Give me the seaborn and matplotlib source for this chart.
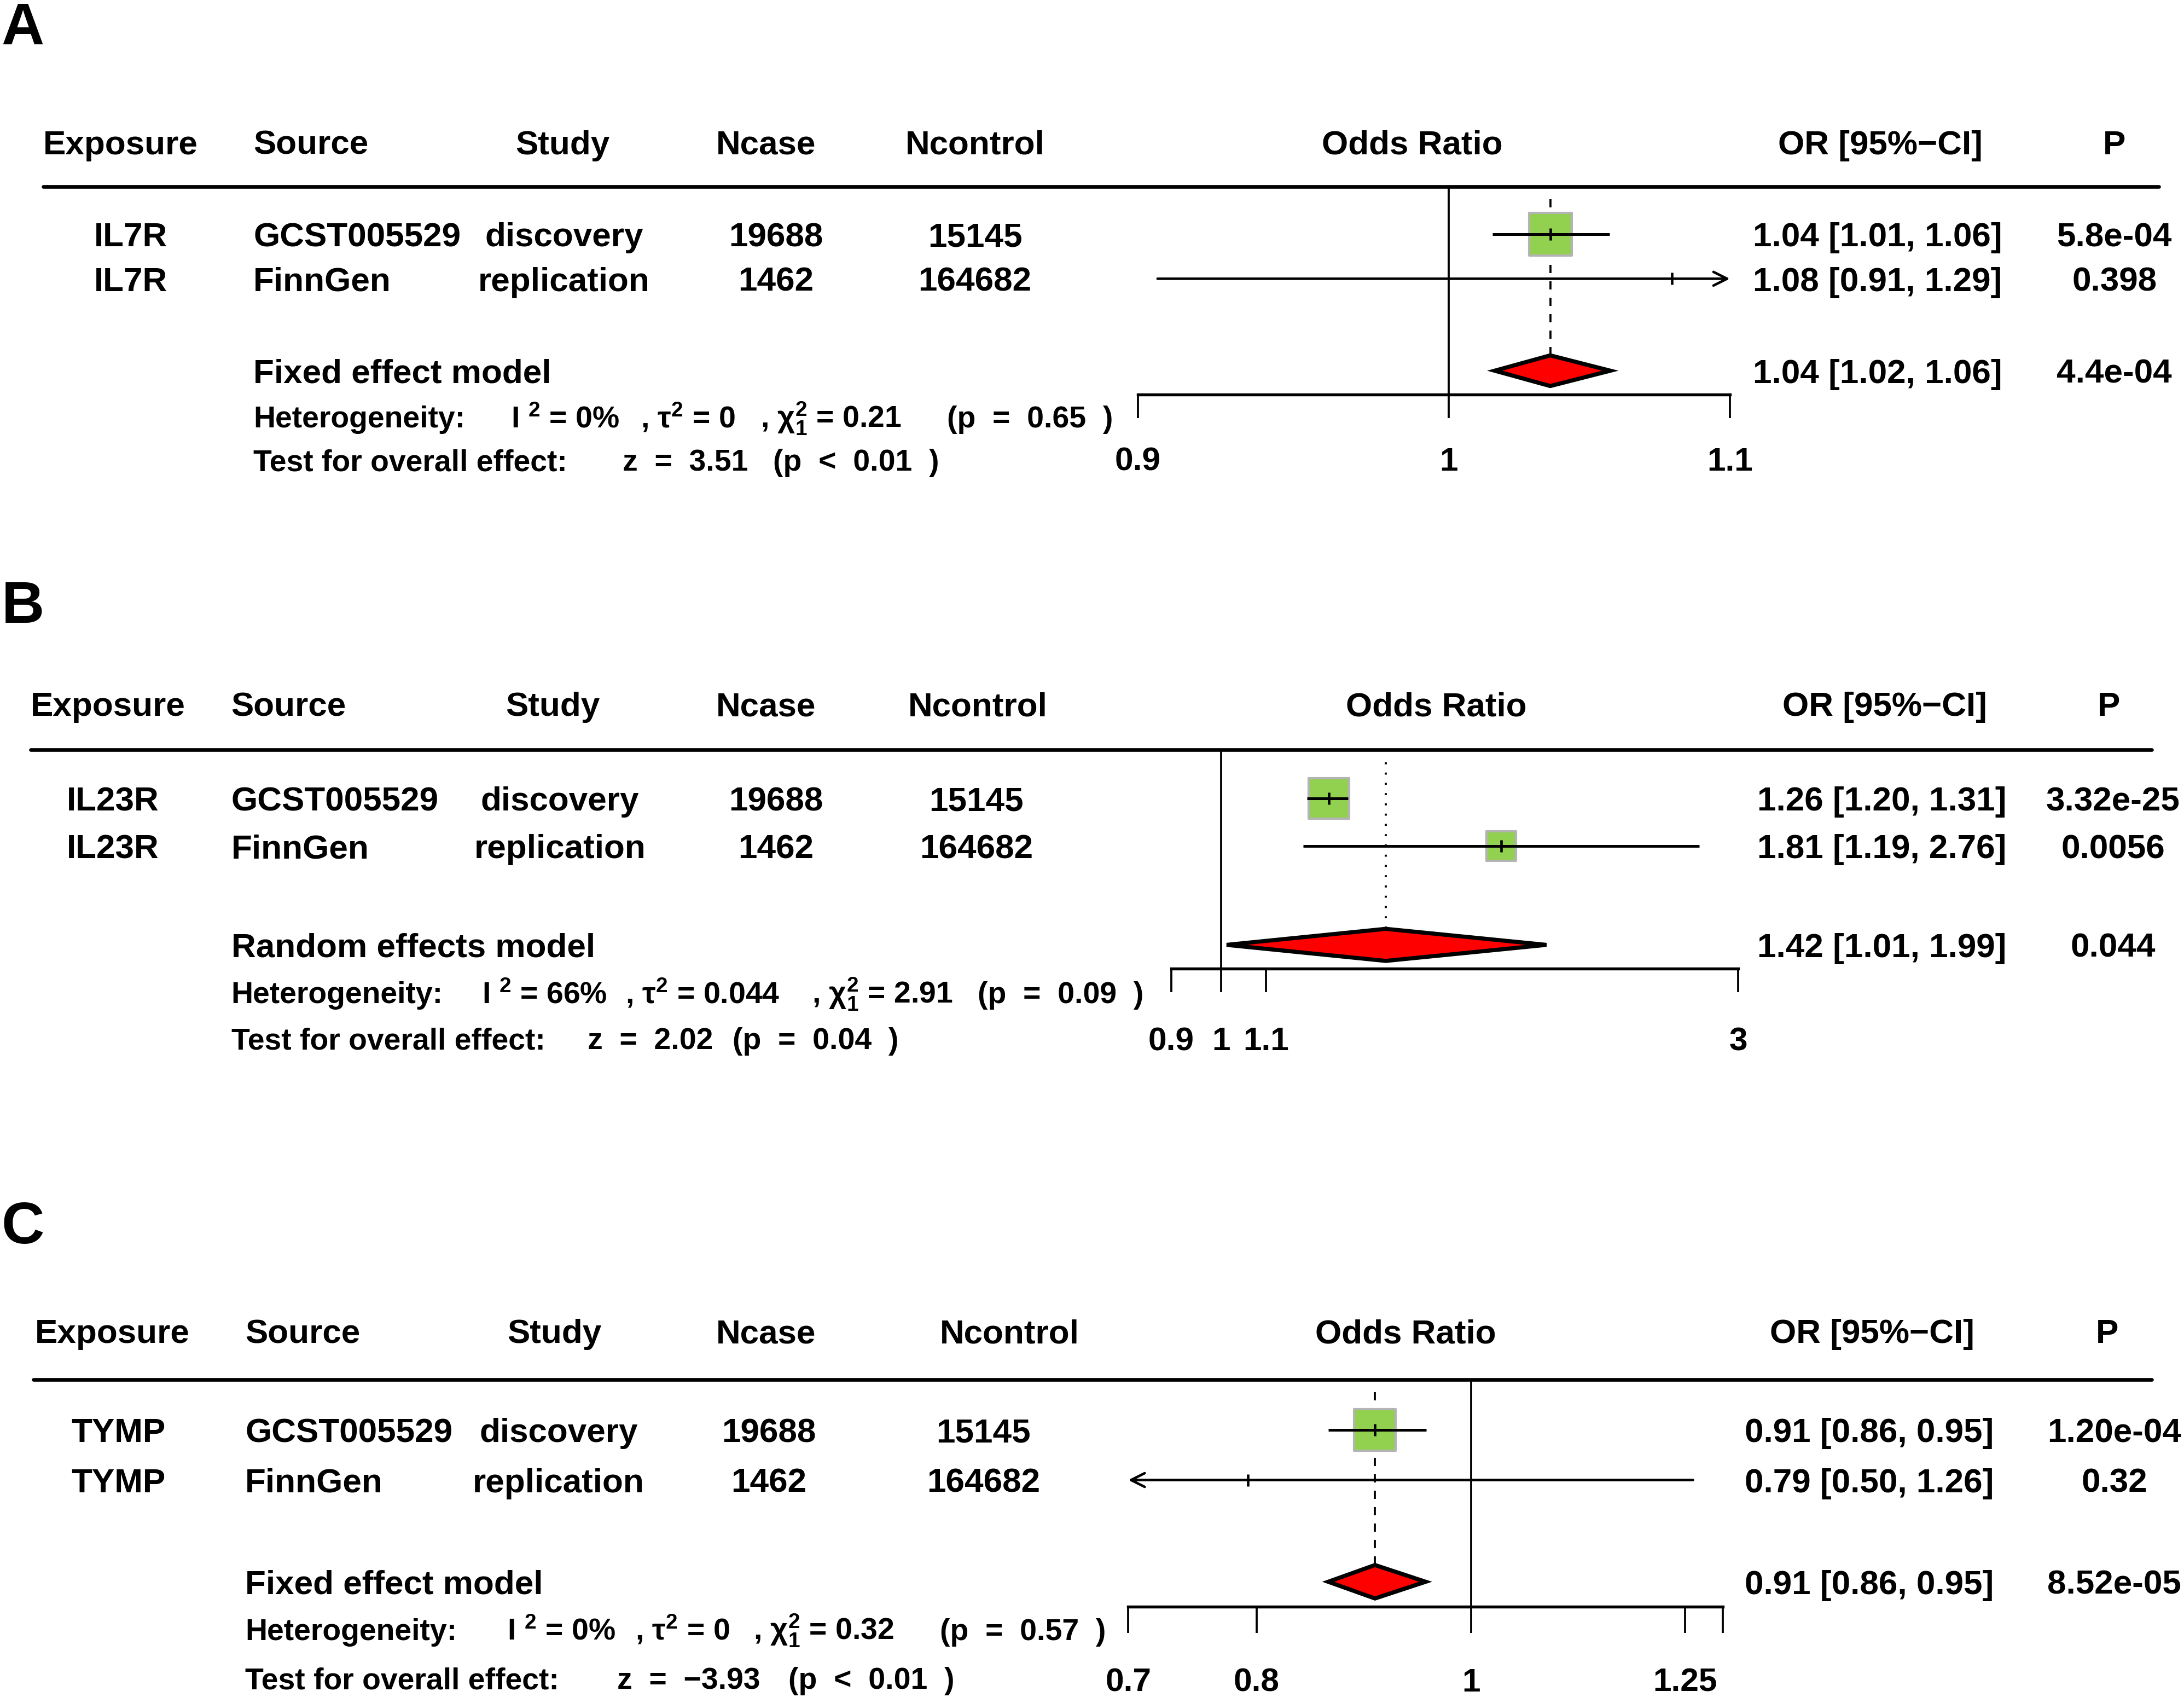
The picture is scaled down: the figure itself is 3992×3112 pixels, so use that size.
import matplotlib
matplotlib.use('Agg')
import matplotlib.pyplot as plt
import seaborn as sns
from matplotlib.lines import Line2D
from matplotlib.ticker import NullLocator

# Stil: hvid baggrund, alt sort og fedt
sns.set_theme(style='white', rc={'text.color': 'black', 'axes.edgecolor': 'black',
                                 'xtick.color': 'black', 'axes.labelcolor': 'black'})
plt.rcParams['font.family'] = ['Liberation Sans', 'DejaVu Sans']
plt.rcParams['font.weight'] = 'bold'
plt.rcParams['mathtext.default'] = 'regular'

# ---- data ----
panel_letters = ['A', 'B', 'C']
exposures = ['IL7R', 'IL23R', 'TYMP']
sources = ['GCST005529', 'FinnGen']
studies = ['discovery', 'replication']
ncase = [19688, 1462]
ncontrol = [15145, 164682]

or_est = [[1.035, 1.0785], [1.257, 1.813], [0.905, 0.793]]
ci_lo = [[1.015, 0.906], [1.20, 1.19], [0.862, 0.50]]
ci_hi = [[1.056, 1.29], [1.31, 2.76], [0.9545, 1.26]]
or_text = [['1.04 [1.01, 1.06]', '1.08 [0.91, 1.29]'],
           ['1.26 [1.20, 1.31]', '1.81 [1.19, 2.76]'],
           ['0.91 [0.86, 0.95]', '0.79 [0.50, 1.26]']]
p_text = [['5.8e-04', '0.398'], ['3.32e-25', '0.0056'], ['1.20e-04', '0.32']]

models = ['Fixed effect model', 'Random effects model', 'Fixed effect model']
pooled_est = [1.035, 1.419, 0.905]
pooled_lo = [1.0157, 1.012, 0.862]
pooled_hi = [1.0563, 1.996, 0.954]
pooled_text = ['1.04 [1.02, 1.06]', '1.42 [1.01, 1.99]', '0.91 [0.86, 0.95]']
pooled_p = ['4.4e-04', '0.044', '8.52e-05']

i2 = ['0%', '66%', '0%']
tau2 = ['0', '0.044', '0']
q_stat = ['0.21', '2.91', '0.32']
p_het = ['0.65', '0.09', '0.57']
z_stat = ['3.51', '2.02', '\u22123.93']
p_z = ['<  0.01', '=  0.04', '<  0.01']

ticks = [[0.9, 1, 1.1], [0.9, 1, 1.1, 3], [0.7, 0.8, 1, 1.25, 1.3]]
tick_labels = [['0.9', '1', '1.1'], ['0.9', '1', '1.1', '3'], ['0.7', '0.8', '1', '1.25', '']]

# ---- layout (pixel grid of the reference, 1568 x 1222) ----
W, H = 1568, 1222
layout = [
    dict(letter=32, head=102, rule=134, rule_x=(31, 1550), rows=(168, 200), summ=266,
         het=299, test=330, axis=283, tl=17, tlab=330, px=(817, 1242), dh=11, line='dash',
         exp_h=31, exp=94, src=182, study_h=404, study=405, ncase_h=550, ncase=557,
         nctl_h=700, nctl=700, orh=1014, ci_h=1350, ci=1348, p_h=1518, p=1518,
         het_x=(182, 367, 460, 546, 680), test_x=(182, 447, 555), box=(18.5, 0)),
    dict(letter=447, head=505, rule=538, rule_x=(22, 1545), rows=(573, 607), summ=678,
         het=712, test=745, axis=695, tl=17, tlab=746, px=(841, 1248), dh=11.5, line='dot',
         exp_h=22, exp=81, src=166, study_h=397, study=402, ncase_h=550, ncase=557,
         nctl_h=702, nctl=701, orh=1031, ci_h=1353, ci=1351, p_h=1514, p=1517,
         het_x=(166, 346, 449, 583, 702), test_x=(166, 422, 526), box=(17.7, 12.9)),
    dict(letter=892, head=955, rule=990, rule_x=(24, 1545), rows=(1026, 1062), summ=1135,
         het=1169, test=1204, axis=1153, tl=19, tlab=1206, px=(810, 1237), dh=12, line='dash',
         exp_h=25, exp=85, src=176, study_h=398, study=401, ncase_h=550, ncase=552,
         nctl_h=725, nctl=706, orh=1009, ci_h=1344, ci=1342, p_h=1513, p=1518,
         het_x=(176, 364, 456, 541, 675), test_x=(176, 443, 566), box=(18.3, 0)),
]

MAIN, HET, TICK, LETTER = 14.9, 13.3, 14.5, 26
PT_PER_PX = 72 / 300 * (3992 / W)       # points per reference pixel
GREEN, GRAY = '#92D050', '#B4B4B4'


def fx(x):
    return x / W


def fy(y):
    return 1 - y / H


fig = plt.figure(figsize=(3992 / 300, 3112 / 300), dpi=300)


def put(x, y, s, size=MAIN, ha='left', family=None):
    # y is the visual middle of the caps; shift down to the baseline
    cap_px = 0.716 * size / PT_PER_PX
    kw = dict(fontsize=size, ha=ha, va='baseline', fontweight='bold')
    if family:
        kw['family'] = family
    fig.text(fx(x), fy(y + cap_px / 2), s, **kw)


for k, L in enumerate(layout):
    # panel letter
    fig.text(fx(1), fy(L['letter']), panel_letters[k], fontsize=LETTER, fontweight='bold',
             ha='left', va='baseline', family=['Liberation Sans Narrow', 'Liberation Sans'])

    # header row
    put(L['exp_h'], L['head'], 'Exposure')
    put(L['src'], L['head'], 'Source')
    put(L['study_h'], L['head'], 'Study', ha='center')
    put(L['ncase_h'], L['head'], 'Ncase', ha='center')
    put(L['nctl_h'], L['head'], 'Ncontrol', ha='center')
    put(L['orh'], L['head'], 'Odds Ratio', ha='center')
    put(L['ci_h'], L['head'], 'OR [95%\u2212CI]', ha='center')
    put(L['p_h'], L['head'], 'P', ha='center')
    fig.add_artist(Line2D([fx(L['rule_x'][0]), fx(L['rule_x'][1])], [fy(L['rule'])] * 2,
                          transform=fig.transFigure, color='black', lw=1.6))

    # study rows
    for i, y in enumerate(L['rows']):
        put(L['exp'], y, exposures[k], ha='center')
        put(L['src'], y, sources[i])
        put(L['study'], y, studies[i], ha='center')
        put(L['ncase'], y, str(ncase[i]), ha='center')
        put(L['nctl'], y, str(ncontrol[i]), ha='center')
        put(L['ci'], y, or_text[k][i], ha='center')
        put(L['p'], y, p_text[k][i], ha='center')

    # pooled row + statistics
    put(L['src'], L['summ'], models[k])
    put(L['ci'], L['summ'], pooled_text[k], ha='center')
    put(L['p'], L['summ'], pooled_p[k], ha='center')

    het_parts = ['Heterogeneity:', 'I $^{2}$ = ' + i2[k], ', \u03c4$^{2}$ = ' + tau2[k],
                 ', \u03c7$^{2}_{1}$ = ' + q_stat[k], '(p  =  ' + p_het[k] + '  )']
    for s, x in zip(het_parts, L['het_x']):
        put(x, L['het'], s, size=HET)
    test_parts = ['Test for overall effect:', 'z  =  ' + z_stat[k], '(p  ' + p_z[k] + '  )']
    for s, x in zip(test_parts, L['test_x']):
        put(x, L['test'], s, size=HET)

    # forest axes: x log scale spanning the tick range, y in reference pixels
    x0, x1 = L['px']
    ax = fig.add_axes([fx(x0), fy(L['axis']), (x1 - x0) / W, (L['axis'] - L['rule']) / H])
    ax.patch.set_visible(False)
    ax.set_xscale('log')
    xmin, xmax = ticks[k][0], ticks[k][-1]
    ax.set_xlim(xmin, xmax)
    ax.set_ylim(L['axis'], L['rule'])
    ax.set_xticks(ticks[k], labels=tick_labels[k])
    ax.xaxis.set_minor_locator(NullLocator())
    ax.set_yticks([])
    for side in ['top', 'left', 'right']:
        ax.spines[side].set_visible(False)
    ax.spines['bottom'].set_linewidth(1.3)
    pad = (L['tlab'] - 0.716 * TICK / PT_PER_PX / 2 - L['axis'] - L['tl']) * PT_PER_PX - 0.5
    ax.tick_params(axis='x', direction='out', length=L['tl'] * PT_PER_PX, width=0.9,
                   pad=pad, labelsize=TICK, bottom=True)
    for lab in ax.get_xticklabels():
        lab.set_fontweight('bold')

    # null line
    ax.axvline(1, color='black', lw=0.9, zorder=1)

    # pooled estimate line (dashed for fixed, dotted for random)
    ys, h = L['summ'], L['dh']
    ls = (0, (4, 4)) if L['line'] == 'dash' else (0, (1, 4))
    ax.plot([pooled_est[k]] * 2, [L['rule'] + 9, ys - h], color='black', lw=0.9, ls=ls, zorder=1)

    # studies
    for i, y in enumerate(L['rows']):
        est, lo, hi = or_est[k][i], ci_lo[k][i], ci_hi[k][i]
        if L['box'][i] > 0:
            sns.scatterplot(x=[est], y=[y], marker='s', s=L['box'][i] ** 2, color=GREEN,
                            edgecolor=GRAY, linewidth=1.0, ax=ax, zorder=2, legend=False)
        arrow = dict(arrowstyle='->,head_length=0.5,head_width=0.25', lw=1.1, color='black',
                     shrinkA=0, shrinkB=0, mutation_scale=12)
        if hi > xmax:
            ax.annotate('', xy=(xmax, y), xytext=(max(lo, xmin), y), arrowprops=arrow, zorder=3)
        elif lo < xmin:
            ax.annotate('', xy=(xmin, y), xytext=(min(hi, xmax), y), arrowprops=arrow, zorder=3)
        else:
            ax.hlines(y, lo, hi, color='black', lw=1.2, zorder=3)
        ax.plot([est], [y], marker='|', ms=5.3, mew=1.1, color='black', zorder=4)

    # pooled diamond
    ax.fill([pooled_lo[k], pooled_est[k], pooled_hi[k], pooled_est[k]], [ys, ys - h, ys, ys + h],
            facecolor='red', edgecolor='black', lw=1.8, zorder=3)

fig.savefig('out.png', dpi=300)
